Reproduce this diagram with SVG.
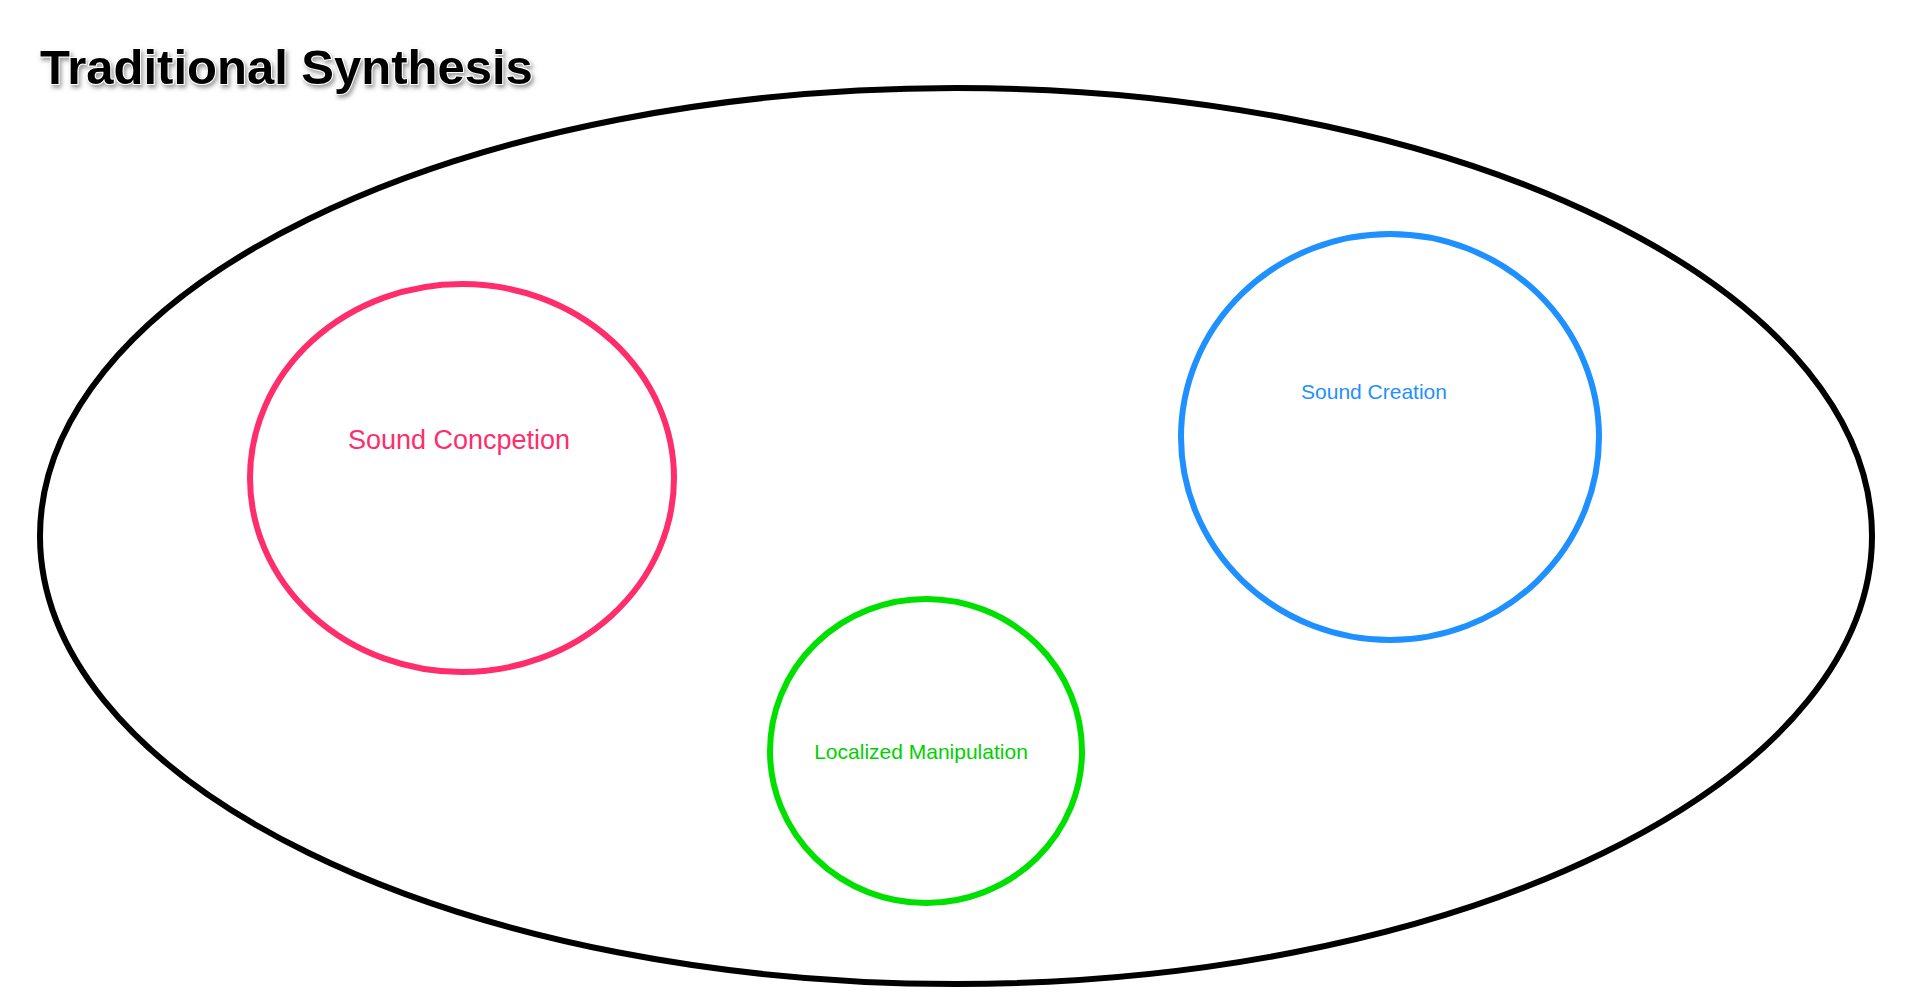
<svg xmlns="http://www.w3.org/2000/svg" width="1920" height="997" viewBox="0 0 1920 997">
<style>
.set{fill:none;stroke-width:6}
.lbl{font-family:"Liberation Sans",Arial,sans-serif;text-anchor:middle;dominant-baseline:middle}
</style>
<defs><filter id="sh" x="-10%" y="-30%" width="120%" height="160%"><feDropShadow dx="2" dy="3" stdDeviation="2" flood-color="#888" flood-opacity="0.8"/></filter></defs>
<rect width="1920" height="997" fill="#fff"/>
<text x="40" y="84" font-family="Liberation Sans,Arial,sans-serif" font-weight="bold" font-size="49" fill="#000" stroke="#fff" stroke-width="2" paint-order="stroke" filter="url(#sh)">Traditional Synthesis</text>
<g id="traditional-synthesis"><ellipse class="set" cx="956" cy="536" rx="916" ry="448" stroke="#000"/></g>
<g id="sound-conception"><ellipse class="set" cx="462" cy="478" rx="212" ry="194" stroke="#ff2d6b"/><text class="lbl" x="459" y="442" font-size="27" fill="#ff2d6b">Sound Concpetion</text></g>
<g id="sound-creation"><ellipse class="set" cx="1390" cy="437" rx="209" ry="203" stroke="#1e90ff"/><text class="lbl" x="1374" y="393" font-size="21" fill="#1e90ff">Sound Creation</text></g>
<g id="localized-manipulation"><ellipse class="set" cx="926" cy="751" rx="156" ry="152" stroke="#00e000"/><text class="lbl" x="921" y="753" font-size="21" fill="#00d000">Localized Manipulation</text></g>
<g id="connectors"/>
</svg>
